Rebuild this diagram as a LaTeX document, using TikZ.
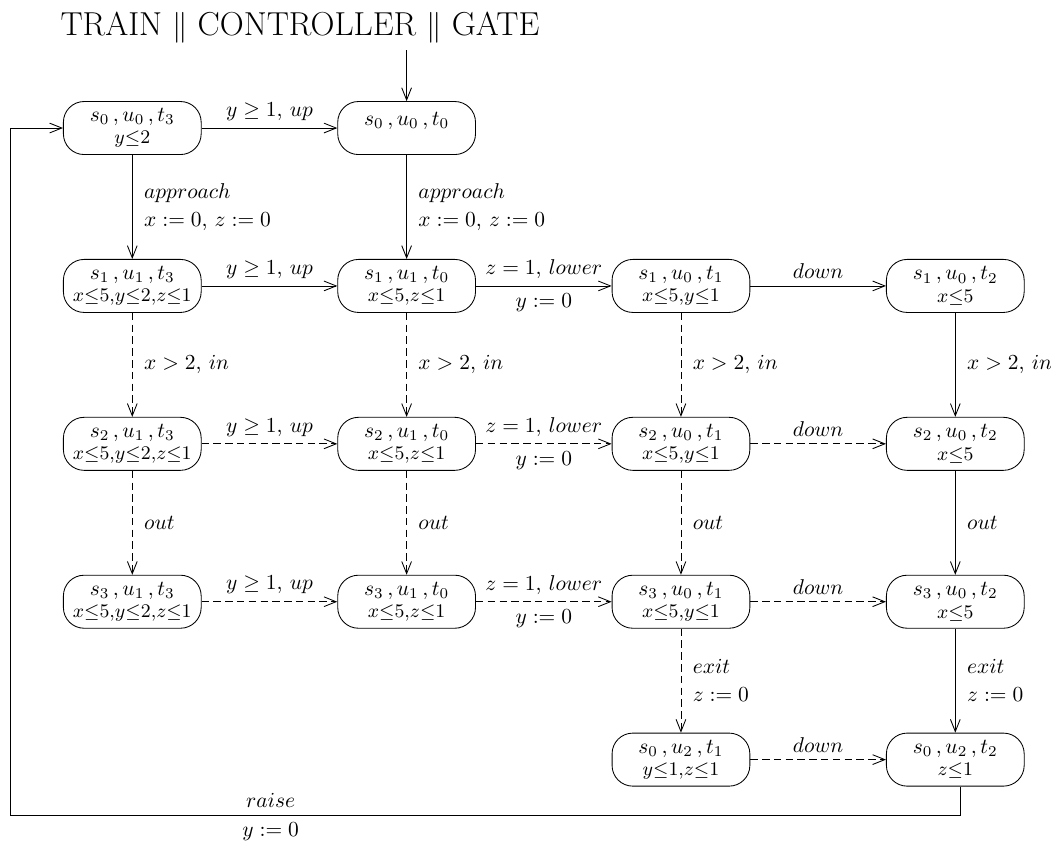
\documentclass[tikz,border=0pt]{standalone}
\usetikzlibrary{arrows.meta}

\tikzset{
  loc/.style={draw, rounded corners=0.34cm, minimum width=2.26cm,
    minimum height=0.87cm, align=center, inner sep=1pt},
  trans/.style={->},
  unsafe/.style={->, dash pattern=on 3.5pt off 2pt},
  act/.style={right=2pt, align=left},
}
% invariant line under a location name
\newcommand{\inv}[1]{\\[-1.5pt]{\small$#1$}}

\begin{document}
\begin{tikzpicture}[>={Straight Barb[length=2mm,width=1.6mm]}]
\useasboundingbox (-2.17,2.1) rectangle (15.07,-11.74);
\node[font=\fontsize{15.5}{18}\selectfont] (title) at (2.75,1.64) {TRAIN $\|$ CONTROLLER $\|$ GATE};

% locations of the product
\node[loc] (s0u0t3) at (0,0)       {$s_0\,, u_0\,, t_3$\inv{y{\leq}2}};
\node[loc, text depth=8.5pt] (s0u0t0) at (4.5,0) {$s_0\,, u_0\,, t_0$};
\node[loc] (s1u1t3) at (0,-2.59)   {$s_1\,, u_1\,, t_3$\inv{x{\leq}5{,}y{\leq}2{,}z{\leq}1}};
\node[loc] (s1u1t0) at (4.5,-2.59) {$s_1\,, u_1\,, t_0$\inv{x{\leq}5{,}z{\leq}1}};
\node[loc] (s1u0t1) at (9,-2.59)   {$s_1\,, u_0\,, t_1$\inv{x{\leq}5{,}y{\leq}1}};
\node[loc] (s1u0t2) at (13.5,-2.59){$s_1\,, u_0\,, t_2$\inv{x{\leq}5}};
\node[loc] (s2u1t3) at (0,-5.18)   {$s_2\,, u_1\,, t_3$\inv{x{\leq}5{,}y{\leq}2{,}z{\leq}1}};
\node[loc] (s2u1t0) at (4.5,-5.18) {$s_2\,, u_1\,, t_0$\inv{x{\leq}5{,}z{\leq}1}};
\node[loc] (s2u0t1) at (9,-5.18)   {$s_2\,, u_0\,, t_1$\inv{x{\leq}5{,}y{\leq}1}};
\node[loc] (s2u0t2) at (13.5,-5.18){$s_2\,, u_0\,, t_2$\inv{x{\leq}5}};
\node[loc] (s3u1t3) at (0,-7.77)   {$s_3\,, u_1\,, t_3$\inv{x{\leq}5{,}y{\leq}2{,}z{\leq}1}};
\node[loc] (s3u1t0) at (4.5,-7.77) {$s_3\,, u_1\,, t_0$\inv{x{\leq}5{,}z{\leq}1}};
\node[loc] (s3u0t1) at (9,-7.77)   {$s_3\,, u_0\,, t_1$\inv{x{\leq}5{,}y{\leq}1}};
\node[loc] (s3u0t2) at (13.5,-7.77){$s_3\,, u_0\,, t_2$\inv{x{\leq}5}};
\node[loc] (s0u2t1) at (9,-10.36)  {$s_0\,, u_2\,, t_1$\inv{y{\leq}1{,}z{\leq}1}};
\node[loc] (s0u2t2) at (13.5,-10.36){$s_0\,, u_2\,, t_2$\inv{z{\leq}1}};

% initial location
\coordinate (init) at (4.5,1.28);
\draw[trans] (init) -- (s0u0t0);

% row 1
\draw[trans] (s0u0t3) -- node[above] {$y \geq 1$, $up$} (s0u0t0);
\draw[trans] (s0u0t3) -- node[act] {$approach$\\[1pt]$x := 0$, $z := 0$} (s1u1t3);
\draw[trans] (s0u0t0) -- node[act] {$approach$\\[1pt]$x := 0$, $z := 0$} (s1u1t0);

% row 2
\draw[trans] (s1u1t3) -- node[above] {$y \geq 1$, $up$} (s1u1t0);
\draw[trans] (s1u1t0) -- node[above] {$z = 1$, $lower$} node[below] {$y := 0$} (s1u0t1);
\draw[trans] (s1u0t1) -- node[above] {$down$} (s1u0t2);
\draw[unsafe] (s1u1t3) -- node[act] {$x > 2$, $in$} (s2u1t3);
\draw[unsafe] (s1u1t0) -- node[act] {$x > 2$, $in$} (s2u1t0);
\draw[unsafe] (s1u0t1) -- node[act] {$x > 2$, $in$} (s2u0t1);
\draw[trans] (s1u0t2) -- node[act] {$x > 2$, $in$} (s2u0t2);

% row 3
\draw[unsafe] (s2u1t3) -- node[above] {$y \geq 1$, $up$} (s2u1t0);
\draw[unsafe] (s2u1t0) -- node[above] {$z = 1$, $lower$} node[below] {$y := 0$} (s2u0t1);
\draw[unsafe] (s2u0t1) -- node[above] {$down$} (s2u0t2);
\draw[unsafe] (s2u1t3) -- node[act] {$out$} (s3u1t3);
\draw[unsafe] (s2u1t0) -- node[act] {$out$} (s3u1t0);
\draw[unsafe] (s2u0t1) -- node[act] {$out$} (s3u0t1);
\draw[trans] (s2u0t2) -- node[act] {$out$} (s3u0t2);

% row 4
\draw[unsafe] (s3u1t3) -- node[above] {$y \geq 1$, $up$} (s3u1t0);
\draw[unsafe] (s3u1t0) -- node[above] {$z = 1$, $lower$} node[below] {$y := 0$} (s3u0t1);
\draw[unsafe] (s3u0t1) -- node[above] {$down$} (s3u0t2);
\draw[unsafe] (s3u0t1) -- node[act] {$exit$\\[1pt]$z := 0$} (s0u2t1);
\draw[trans] (s3u0t2) -- node[act] {$exit$\\[1pt]$z := 0$} (s0u2t2);

% row 5 and the way back
\draw[unsafe] (s0u2t1) -- node[above] {$down$} (s0u2t2);
\coordinate (back) at (-2.0,-11.27);
\draw[trans] ([xshift=0.08cm]s0u2t2.south) |- node[pos=0.863, above] {$raise$}
  node[pos=0.863, below] {$y := 0$} (back) |- (s0u0t3.west);
\end{tikzpicture}
\end{document}
